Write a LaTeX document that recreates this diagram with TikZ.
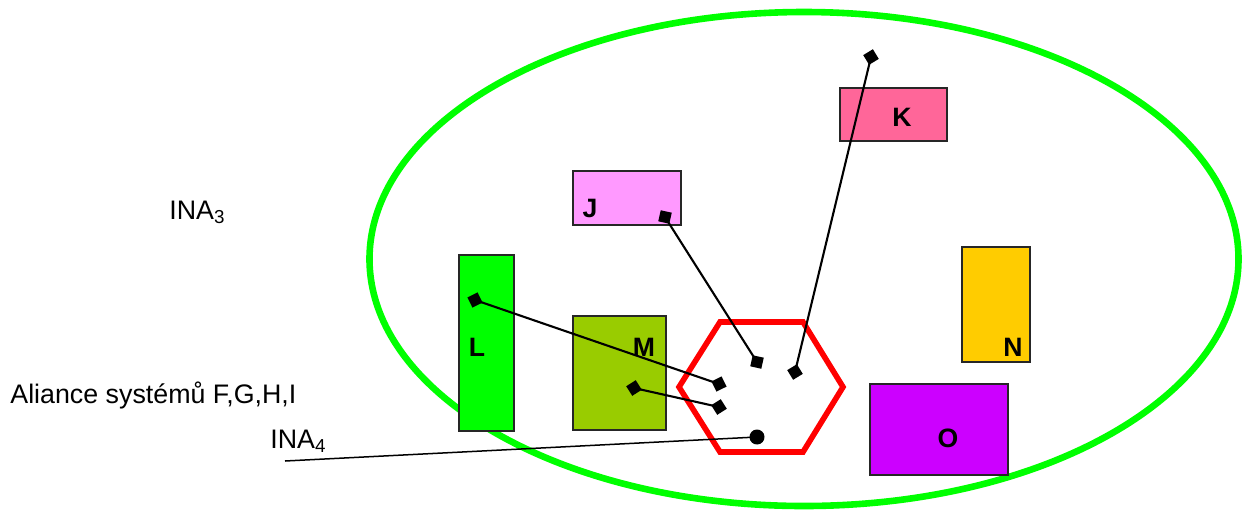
\documentclass[tikz,border=0pt]{standalone}
\usepackage{fontspec}
\setmainfont{Liberation Sans}
\usetikzlibrary{arrows.meta}
\definecolor{ovalgreen}{RGB}{0,255,0}
\definecolor{boxL}{RGB}{0,255,0}
\definecolor{boxM}{RGB}{153,204,0}
\definecolor{boxJ}{RGB}{255,153,255}
\definecolor{boxK}{RGB}{255,102,153}
\definecolor{boxN}{RGB}{255,204,0}
\definecolor{boxO}{RGB}{204,0,255}

\begin{document}
\begin{tikzpicture}[x=0.5pt, y=-0.5pt,
	box/.style={draw=black!85, line width=0.75pt},
	lbl/.style={inner sep=0pt, font=\fontsize{13.3}{16}\selectfont\bfseries},
	txt/.style={inner sep=0pt, anchor=base west, font=\fontsize{13.4}{16}\selectfont},
	link/.style={line width=1.05pt, {Diamond[length=8pt,width=8pt]}-{Diamond[length=8pt,width=8pt]}, shorten <=-4pt, shorten >=-4pt},
	dotlink/.style={line width=0.75pt, -{Circle[length=7.5pt]}, shorten >=-3.75pt}]
			%%%%% START %%%%%
			\useasboundingbox (0,0) rectangle (1242,510);
			
			\draw[ovalgreen, line width=3.3pt] (804,259) ellipse [x radius=434.5, y radius=247];
			
			\draw[box, fill=boxL] (459,255) rectangle (514,431);
			\draw[box, fill=boxM] (573,316) rectangle (666,430);
			\draw[box, fill=boxJ] (573,171) rectangle (681,225);
			\draw[box, fill=boxK] (840,88) rectangle (947,141);
			\draw[box, fill=boxN] (962,247) rectangle (1030,362);
			\draw[box, fill=boxO] (870,384) rectangle (1008,475);
			
			\draw[red, line width=2.8pt, line join=miter] (679,387) -- (720,322) -- (803,322) -- (843,387) -- (803,452) -- (720,452) -- cycle;
			
			\coordinate (Lend) at (475,300);
			\coordinate (Mend) at (634,388);
			\coordinate (Jend) at (665,217);
			\coordinate (Kend) at (871,57);
			\coordinate (hexL) at (719,384);
			\coordinate (hexM) at (719,407);
			\coordinate (hexJ) at (757,362);
			\coordinate (hexK) at (795,372);
			\coordinate (hexdot) at (757,437);
			\coordinate (ina4end) at (285,461);
			
			\draw[link] (Lend) -- (hexL);
			\draw[link] (Mend) -- (hexM);
			\draw[link] (Jend) -- (hexJ);
			\draw[link] (hexK) -- (Kend);
			\draw[dotlink] (ina4end) -- (hexdot);
			
			\node[lbl] (labJ) at (590,208) {J};
			\node[lbl] (labK) at (902,117) {K};
			\node[lbl] (labL) at (477,347) {L};
			\node[lbl] (labM) at (644,347) {M};
			\node[lbl] (labN) at (1013,347) {N};
			\node[lbl] (labO) at (948,438) {O};
			
			\node[txt] (ina3) at (169,219) {INA\textsubscript{3}};
			\node[txt] (aliance) at (10,403) {Aliance systémů F,G,H,I};
			\node[txt] (ina4) at (270,448) {INA\textsubscript{4}};
			%%%%% END %%%%%
\end{tikzpicture}
\end{document}
